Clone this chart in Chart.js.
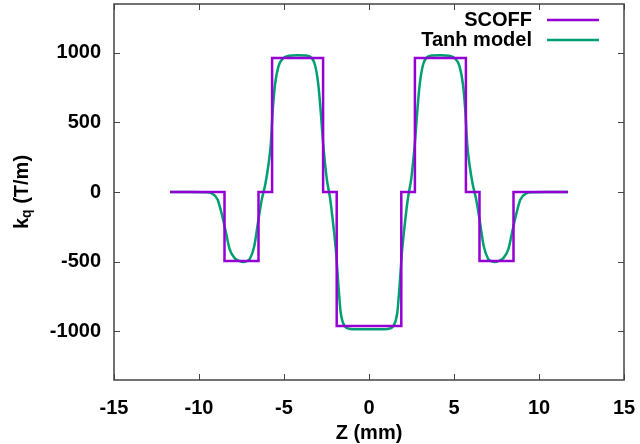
<!DOCTYPE html>
<html>
<head>
<meta charset="utf-8">
<script src="https://cdn.jsdelivr.net/npm/chart.js@4"></script>
<style>
  body { margin: 0; background: #fff; }
  #chart-container { width: 640px; height: 444px; }
</style>
</head>
<body>
<div id="chart-container"><canvas id="c"></canvas></div>
<script>
// SCOFF step profile (corners)
var zScoff = [-11.7, -8.5, -8.5, -6.5, -6.5, -5.7, -5.7, -2.7, -2.7, -1.9, -1.9,
              1.9, 1.9, 2.7, 2.7, 5.7, 5.7, 6.5, 6.5, 8.5, 8.5, 11.7];
var kScoff = [0, 0, -495, -495, 0, 0, 962, 962, 0, 0, -962,
              -962, 0, 0, 962, 962, 0, 0, -495, -495, 0, 0];

// Tanh model
var zTanh = [-11.7, -10.5, -9.6, -9.25, -8.9, -8.6, -8.4, -8.2, -7.9, -7.6, -7.4, -7.2, -7.0,
             -6.75, -6.5, -6.3, -6.1, -5.92, -5.78, -5.67, -5.53, -5.33, -5.05, -4.7, -4.2,
             -3.75, -3.47, -3.18, -2.98, -2.84, -2.69, -2.49, -2.29, -2.1, -1.94, -1.8, -1.67,
             -1.47, -1.12, -0.6, 0,
             0.6, 1.12, 1.47, 1.67, 1.8, 1.94, 2.1, 2.29, 2.49, 2.69, 2.84, 2.98, 3.18, 3.47,
             3.75, 4.2, 4.7, 5.05, 5.33, 5.53, 5.67, 5.78, 5.92, 6.1, 6.3, 6.5, 6.75, 7.0,
             7.2, 7.4, 7.6, 7.9, 8.2, 8.4, 8.6, 8.9, 9.25, 9.6, 10.5, 11.7];
var kTanh = [0, 0, -2, -10, -55, -190, -300, -410, -475, -497, -503, -497, -478,
             -390, -195, -50, 55, 190, 340, 575, 770, 900, 960, 978, 982,
             980, 972, 914, 770, 578, 338, 100, -45, -237, -430, -670, -860,
             -955, -983, -986, -986,
             -986, -983, -955, -860, -670, -430, -237, -45, 100, 338, 578, 770, 914, 972,
             980, 982, 978, 960, 900, 770, 575, 340, 190, 55, -50, -195, -390, -478,
             -497, -503, -497, -475, -410, -300, -190, -55, -10, -2, 0, 0];

var xTicks = [-15, -10, -5, 0, 5, 10, 15];
var yTicks = [-1000, -500, 0, 500, 1000];

var FONT = 'Liberation Sans, Arial, sans-serif';

function toPoints(xs, ys) {
    var pts = [];
    for (var i = 0; i < xs.length; i++) pts.push({ x: xs[i], y: ys[i] });
    return pts;
}

// frame, inward ticks, axis titles and legend, gnuplot style
var gnuplotFrame = {
    id: 'gnuplotFrame',
    afterDraw: function(chart) {
        var ctx = chart.ctx;
        var a = chart.chartArea;
        var xs = chart.scales.x, ys = chart.scales.y;
        ctx.save();
        ctx.strokeStyle = '#444';
        ctx.lineWidth = 1.5;
        ctx.strokeRect(a.left, a.top, a.right - a.left, a.bottom - a.top);
        ctx.lineWidth = 1;
        ctx.beginPath();
        xTicks.forEach(function(v) {
            var px = Math.round(xs.getPixelForValue(v)) + 0.5;
            ctx.moveTo(px, a.bottom); ctx.lineTo(px, a.bottom - 6);
            ctx.moveTo(px, a.top); ctx.lineTo(px, a.top + 6);
        });
        yTicks.forEach(function(v) {
            var py = Math.round(ys.getPixelForValue(v)) + 0.5;
            ctx.moveTo(a.left, py); ctx.lineTo(a.left + 6, py);
            ctx.moveTo(a.right, py); ctx.lineTo(a.right - 6, py);
        });
        ctx.stroke();

        ctx.fillStyle = '#000';
        // x title
        ctx.font = 'bold 20px ' + FONT;
        ctx.textAlign = 'center';
        ctx.textBaseline = 'middle';
        ctx.fillText('Z (mm)', (a.left + a.right) / 2, 433);

        // y title with subscript
        ctx.save();
        ctx.translate(22, 192);
        ctx.rotate(-Math.PI / 2);
        ctx.textAlign = 'left';
        ctx.font = 'bold 20px ' + FONT;
        var wk = ctx.measureText('k').width;
        var wr = ctx.measureText(' (T/m)').width;
        ctx.font = 'bold 14px ' + FONT;
        var wq = ctx.measureText('q').width;
        var x0 = -(wk + wq + wr) / 2;
        ctx.font = 'bold 20px ' + FONT;
        ctx.fillText('k', x0, 0);
        ctx.font = 'bold 14px ' + FONT;
        ctx.fillText('q', x0 + wk, 5);
        ctx.font = 'bold 20px ' + FONT;
        ctx.fillText(' (T/m)', x0 + wk + wq, 0);
        ctx.restore();

        // legend
        ctx.font = 'bold 20px ' + FONT;
        ctx.textAlign = 'right';
        ctx.textBaseline = 'middle';
        chart.data.datasets.forEach(function(ds, i) {
            var y = 20 + i * 20;
            ctx.fillStyle = '#000';
            ctx.fillText(ds.label, 532, y);
            ctx.strokeStyle = ds.borderColor;
            ctx.lineWidth = 2.5;
            ctx.beginPath();
            ctx.moveTo(547, y); ctx.lineTo(599, y);
            ctx.stroke();
        });
        ctx.restore();
    }
};

var ctx = document.getElementById('c').getContext('2d');
var chart = new Chart(ctx, {
    type: 'scatter',
    data: {
        datasets: [{
            label: 'SCOFF',
            data: toPoints(zScoff, kScoff),
            showLine: true,
            borderColor: '#9400d3',
            borderWidth: 2.5,
            pointRadius: 0,
            fill: false
        }, {
            label: 'Tanh model',
            data: toPoints(zTanh, kTanh),
            showLine: true,
            borderColor: '#009e73',
            borderWidth: 2.5,
            pointRadius: 0,
            cubicInterpolationMode: 'monotone',
            fill: false
        }]
    },
    options: {
        responsive: true,
        maintainAspectRatio: false,
        animation: false,
        layout: { padding: { top: 4, right: 16, left: 0, bottom: 0 } },
        plugins: {
            legend: { display: false },
            tooltip: { enabled: false }
        },
        scales: {
            x: {
                type: 'linear',
                min: -15,
                max: 15,
                afterBuildTicks: function(s) { s.ticks = xTicks.map(function(v) { return { value: v }; }); },
                afterFit: function(s) { s.height = 64; s.paddingLeft = 0; s.paddingRight = 0; },
                grid: { display: false, drawTicks: false },
                border: { display: false },
                ticks: {
                    padding: 16,
                    color: '#000',
                    maxRotation: 0,
                    font: { family: FONT, size: 20, weight: 'bold' },
                    callback: function(v) { return String(v); }
                }
            },
            y: {
                type: 'linear',
                min: -1350,
                max: 1350,
                afterBuildTicks: function(s) { s.ticks = yTicks.map(function(v) { return { value: v }; }); },
                afterFit: function(s) { s.width = 114; s.paddingTop = 0; s.paddingBottom = 0; },
                grid: { display: false, drawTicks: false },
                border: { display: false },
                ticks: {
                    padding: 13,
                    color: '#000',
                    font: { family: FONT, size: 20, weight: 'bold' },
                    callback: function(v) { return String(v); }
                }
            }
        }
    },
    plugins: [gnuplotFrame]
});
</script>
</body>
</html>
